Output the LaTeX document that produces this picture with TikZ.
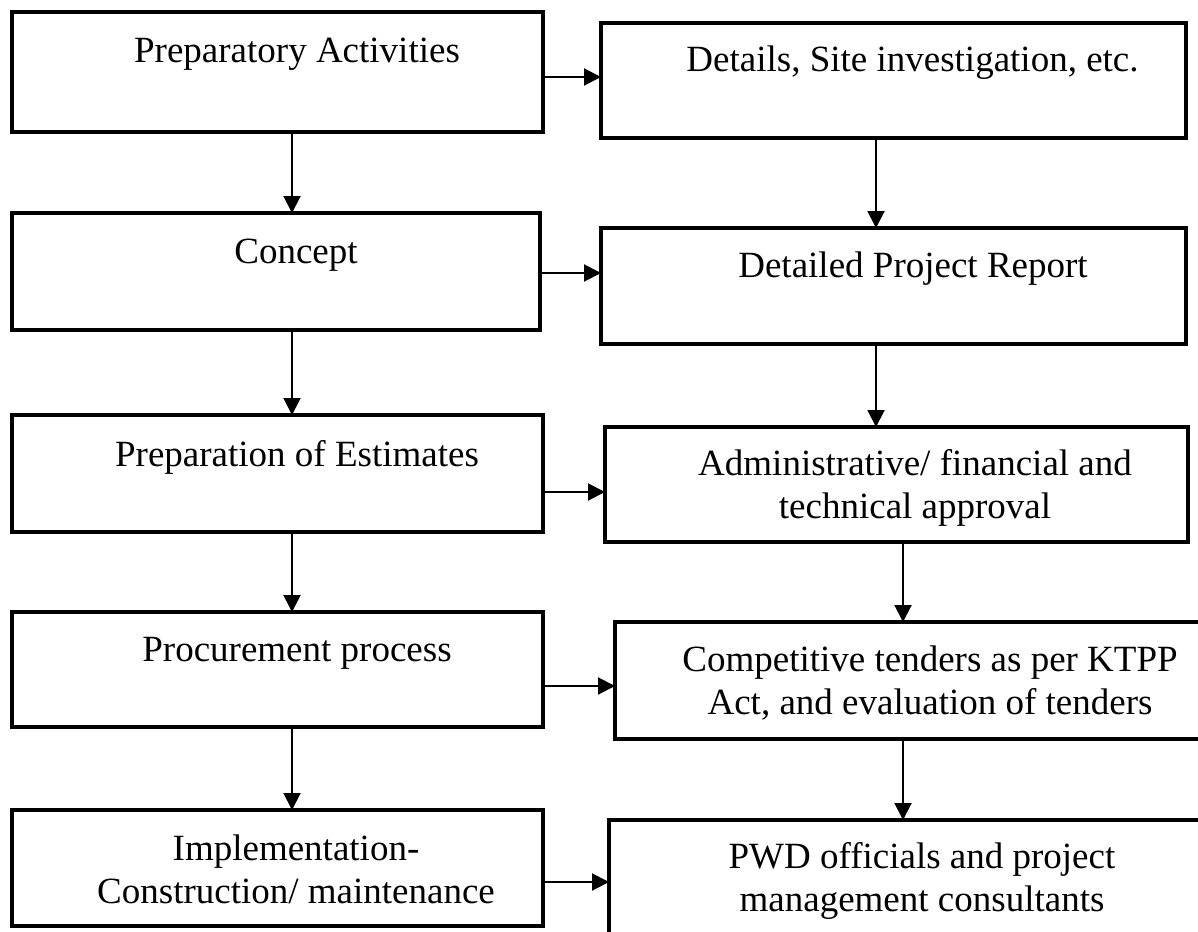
\documentclass[tikz,border=0pt]{standalone}
\usepackage{fontspec}
\setmainfont{Liberation Serif}
\usetikzlibrary{arrows.meta}

\begin{document}
\begin{tikzpicture}[x=1pt,y=-1pt,
  stagebox/.style={draw=black, line width=4pt, fill=white, inner sep=0pt, outer sep=0pt},
  label/.style={font=\fontsize{37}{43}\selectfont, inner sep=0pt, anchor=base, align=center},
  flow/.style={draw=black, line width=2pt, -{Triangle[length=17pt,width=17pt]}}
]
\useasboundingbox (0,0) rectangle (1198,931);
\clip (0,0) rectangle (1198,931);
\fill[white] (0,0) rectangle (1198,931);

% left column: project stages
\node[stagebox, minimum width=531pt, minimum height=120pt] (L1) at (277.5,72) {};
\node[stagebox, minimum width=528pt, minimum height=117pt] (L2) at (276,271.5) {};
\node[stagebox, minimum width=531pt, minimum height=117pt] (L3) at (277.5,473.5) {};
\node[stagebox, minimum width=531pt, minimum height=115pt] (L4) at (277.5,669.5) {};
\node[stagebox, minimum width=531pt, minimum height=116pt] (L5) at (277.5,868) {};

% right column: what each stage involves
\node[stagebox, minimum width=585pt, minimum height=115pt] (R1) at (893.5,80.5) {};
\node[stagebox, minimum width=585pt, minimum height=116pt] (R2) at (893.5,286) {};
\node[stagebox, minimum width=583pt, minimum height=115pt] (R3) at (896.5,484.5) {};
\node[stagebox, minimum width=600pt, minimum height=117pt] (R4) at (915,680.5) {};
\node[stagebox, minimum width=606pt, minimum height=120pt] (R5) at (912,880) {};

% texts (multi-line labels are placed by the baseline of their last line)
\node[label] (t1) at (297,63) {Preparatory Activities};
\node[label] (t2) at (296,263) {Concept};
\node[label] (t3) at (297,466) {Preparation of Estimates};
\node[label] (t4) at (297,661) {Procurement process};
\node[label] (t5) at (296,903) {Implementation-\\Construction/ maintenance};

\node[label] (s1) at (912.5,72) {Details, Site investigation, etc.};
\node[label] (s2) at (913,277) {Detailed Project Report};
\node[label] (s3) at (915,518) {Administrative/ financial and\\technical approval};
\node[label] (s4) at (930,714) {Competitive tenders as per KTPP\\Act, and evaluation of tenders};
\node[label] (s5) at (922,911) {PWD officials and project\\management consultants};

% vertical flow, left column
\draw[flow] (L1.south -| 292,0) -- (L2.north -| 292,0);
\draw[flow] (L2.south -| 292,0) -- (L3.north -| 292,0);
\draw[flow] (L3.south -| 292,0) -- (L4.north -| 292,0);
\draw[flow] (L4.south -| 292,0) -- (L5.north -| 292,0);

% vertical flow, right column
\draw[flow] (R1.south -| 876,0) -- (R2.north -| 876,0);
\draw[flow] (R2.south -| 876,0) -- (R3.north -| 876,0);
\draw[flow] (R3.south -| 903,0) -- (R4.north -| 903,0);
\draw[flow] (R4.south -| 903,0) -- (R5.north -| 903,0);

% horizontal links
\draw[flow] (L1.east |- 0,77) -- (R1.west |- 0,77);
\draw[flow] (L2.east |- 0,273) -- (R2.west |- 0,273);
\draw[flow] (L3.east |- 0,492) -- (R3.west |- 0,492);
\draw[flow] (L4.east |- 0,686) -- (R4.west |- 0,686);
\draw[flow] (L5.east |- 0,882) -- (R5.west |- 0,882);
\end{tikzpicture}
\end{document}
